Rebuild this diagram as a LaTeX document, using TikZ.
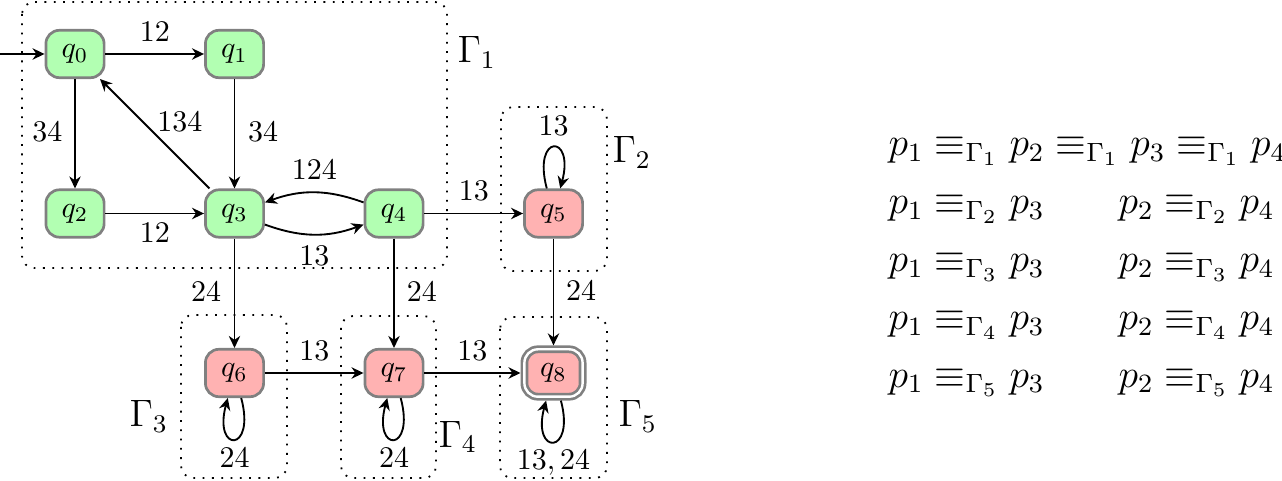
\documentclass[tikz,border=0pt]{standalone}
\usetikzlibrary{arrows.meta}
\begin{document}
\begin{tikzpicture}[x=0.33333pt,y=0.33333pt,
  st/.style={rectangle, rounded corners=4.5pt, draw=gray, line width=0.9pt,
    minimum width=19.4pt, minimum height=15.8pt, inner sep=0pt},
  good/.style={st, fill=green!30},
  bad/.style={st, fill=red!30},
  tr/.style={line width=0.62pt, -{Stealth[length=4pt,width=3.8pt,inset=1.3pt]}},
  lab/.style={inner sep=0pt, anchor=base},
  grp/.style={draw, dash pattern=on 0.6pt off 2.5pt, line width=0.6pt, rounded corners=4pt},
  gl/.style={anchor=base west, inner sep=0pt, font=\large, transform shape, scale=1.06},
  eq/.style={anchor=base west, inner sep=0pt, font=\large, transform shape, scale=1.1}
]
\useasboundingbox (0,0) rectangle (1282,-481);
% groups
\draw[grp] (22,-2) rectangle (447,-268);
\draw[grp] (501,-107) rectangle (607,-271);
\draw[grp] (181,-315) rectangle (287,-478);
\draw[grp] (341,-316) rectangle (436,-478);
\draw[grp] (500,-317) rectangle (607,-478);
\node[gl] (g1) at (457,-63) {$\Gamma_1$};
\node[gl] (g2) at (612,-163) {$\Gamma_2$};
\node[gl] (g3) at (129,-427) {$\Gamma_3$};
\node[gl] (g4) at (438,-447) {$\Gamma_4$};
\node[gl] (g5) at (618,-427) {$\Gamma_5$};
% states
\node[good] (q0) at (75,-54) {$q_0$};
\node[good] (q1) at (234.5,-54) {$q_1$};
\node[good] (q2) at (75,-213.5) {$q_2$};
\node[good] (q3) at (234.5,-213.5) {$q_3$};
\node[good] (q4) at (394,-213.5) {$q_4$};
\node[bad] (q5) at (553.5,-213.5) {$q_5$};
\node[bad] (q6) at (234.5,-373) {$q_6$};
\node[bad] (q7) at (394,-373) {$q_7$};
\node[bad, double=white, double distance=0.8pt, outer sep=1.3pt] (q8) at (553.5,-373) {$q_8$};
% transitions
\coordinate (s) at (0,-54);
\draw[tr] (s) -- (q0);
\draw[tr] (q0) -- node[lab, yshift=4.33pt] {$12$} (q1);
\draw[tr] (q0) -- node[lab, xshift=-9.17pt, yshift=-2.67pt] {$34$} (q2);
\draw[tr] (q1) -- node[lab, xshift=9.5pt, yshift=-2.67pt] {$34$} (q3);
\draw[tr] (q3) -- node[lab, xshift=8.4pt, yshift=0.6pt] {$134$} (q0);
\draw[tr] (q2) -- node[lab, yshift=-9.83pt] {$12$} (q3);
\draw[tr] (q3) to[bend right=20] node[lab, yshift=-10.3pt] {$13$} (q4);
\draw[tr] (q4) to[bend right=20] node[lab, yshift=4.33pt] {$124$} (q3);
\draw[tr] (q4) -- node[lab, yshift=4.33pt] {$13$} (q5);
\draw[tr] (q3) -- node[lab, xshift=-9.5pt, yshift=-2.9pt] {$24$} (q6);
\draw[tr] (q4) -- node[lab, xshift=9.33pt, yshift=-2.9pt] {$24$} (q7);
\draw[tr] (q5) -- node[lab, xshift=9.17pt, yshift=-2.9pt] {$24$} (q8);
\draw[tr] (q6) -- node[lab, yshift=4.33pt] {$13$} (q7);
\draw[tr] (q7) -- node[lab, yshift=4.33pt] {$13$} (q8);
\draw[tr] (q5) to[loop above, min distance=19pt] node[lab, yshift=4pt] {$13$} (q5);
\draw[tr] (q6) to[loop below, min distance=19pt] node[lab, yshift=-9.33pt] {$24$} (q6);
\draw[tr] (q7) to[loop below, min distance=19pt] node[lab, yshift=-9.33pt] {$24$} (q7);
\draw[tr] (q8) to[loop below, min distance=19pt] node[lab, yshift=-9.33pt] {$13, 24$} (q8);
% equivalences
\node[eq] (r1) at (888,-156) {$p_1 \equiv_{\Gamma_1} p_2 \equiv_{\Gamma_1} p_3 \equiv_{\Gamma_1} p_4$};
\node[eq] (r2a) at (888,-214) {$p_1 \equiv_{\Gamma_2} p_3$};
\node[eq] (r2b) at (1118,-214) {$p_2 \equiv_{\Gamma_2} p_4$};
\node[eq] (r3a) at (888,-272) {$p_1 \equiv_{\Gamma_3} p_3$};
\node[eq] (r3b) at (1118,-272) {$p_2 \equiv_{\Gamma_3} p_4$};
\node[eq] (r4a) at (888,-330) {$p_1 \equiv_{\Gamma_4} p_3$};
\node[eq] (r4b) at (1118,-330) {$p_2 \equiv_{\Gamma_4} p_4$};
\node[eq] (r5a) at (888,-387) {$p_1 \equiv_{\Gamma_5} p_3$};
\node[eq] (r5b) at (1118,-387) {$p_2 \equiv_{\Gamma_5} p_4$};
\end{tikzpicture}
\end{document}
